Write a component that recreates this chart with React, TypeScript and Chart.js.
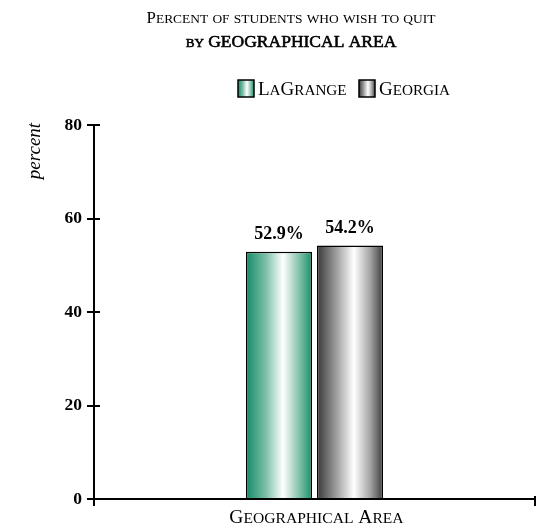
import React, { useEffect, useRef } from 'react';
import { Chart, registerables } from 'chart.js';

Chart.register(...registerables);

const categories = ['Geographical Area'];
const seriesNames = ['LaGrange', 'Georgia'];
const lagrangeValues = [52.9];
const georgiaValues = [54.2];
const yTicks = [0, 20, 40, 60, 80];
const titleLine1 = 'Percent of students who wish to quit';
const titleLine2 = 'by GEOGRAPHICAL AREA';
const yAxisTitle = 'percent';
const xAxisTitle = 'Geographical Area';

const FAMILY = '"Liberation Serif", "Times New Roman", serif';

const GREEN_STOPS: [number, string][] = [
  [0, '#138a68'],
  [0.3, '#7dbfa6'],
  [0.56, '#ffffff'],
  [0.8, '#86c3ab'],
  [1, '#16906d'],
];
const GRAY_STOPS: [number, string][] = [
  [0, '#383838'],
  [0.3, '#a0a0a0'],
  [0.56, '#ffffff'],
  [0.8, '#a6a6a6'],
  [1, '#404040'],
];

function makeGradient(ctx: CanvasRenderingContext2D, x0: number, x1: number, stops: [number, string][]) {
  const g = ctx.createLinearGradient(x0, 0, x1, 0);
  stops.forEach(([o, c]) => g.addColorStop(o, c));
  return g;
}

function barGradient(c: any, stops: [number, string][]) {
  const chart = c.chart;
  if (c.dataIndex === undefined) return stops[0][1];
  const el: any = chart.getDatasetMeta(c.datasetIndex).data[c.dataIndex];
  if (!el || el.width == null || !isFinite(el.x) || !isFinite(el.width)) return stops[0][1];
  return makeGradient(chart.ctx, el.x - el.width / 2, el.x + el.width / 2, stops);
}

function drawSmallCaps(
  ctx: CanvasRenderingContext2D,
  text: string,
  x: number,
  y: number,
  size: number,
  align: 'left' | 'center' | 'right',
  weight = 'normal',
  ratio = 0.78,
  embolden = 0
) {
  const segs: { str: string; size: number; w: number }[] = [];
  for (const ch of text) {
    const lower = ch !== ch.toUpperCase();
    const s = lower ? size * ratio : size;
    const c = lower ? ch.toUpperCase() : ch;
    const last = segs[segs.length - 1];
    if (last && last.size === s) last.str += c;
    else segs.push({ str: c, size: s, w: 0 });
  }
  let total = 0;
  for (const seg of segs) {
    ctx.font = `${weight} ${seg.size}px ${FAMILY}`;
    seg.w = ctx.measureText(seg.str).width;
    total += seg.w;
  }
  let start = align === 'center' ? x - total / 2 : align === 'right' ? x - total : x;
  ctx.textAlign = 'left';
  ctx.textBaseline = 'alphabetic';
  for (const seg of segs) {
    ctx.font = `${weight} ${seg.size}px ${FAMILY}`;
    ctx.fillText(seg.str, start, y);
    if (embolden > 0) {
      ctx.lineWidth = embolden;
      ctx.strokeStyle = ctx.fillStyle as string;
      ctx.strokeText(seg.str, start, y);
    }
    start += seg.w;
  }
  return total;
}

const decorPlugin = {
  id: 'decor',
  afterDraw(chart: any) {
    const ctx: CanvasRenderingContext2D = chart.ctx;
    const xs = chart.scales.x;
    const ys = chart.scales.y;
    ctx.save();
    ctx.fillStyle = '#000';

    // Title
    drawSmallCaps(ctx, titleLine1, 291, 23, 16.8, 'center', 'normal', 0.8);
    drawSmallCaps(ctx, titleLine2, 291, 47, 17.5, 'center', 'normal', 0.75, 0.6);

    // Legend
    const legendItems = [
      { name: seriesNames[0], box: 238, text: 258, stops: GREEN_STOPS },
      { name: seriesNames[1], box: 359, text: 379, stops: GRAY_STOPS },
    ];
    for (const it of legendItems) {
      ctx.fillStyle = makeGradient(ctx, it.box, it.box + 16, it.stops);
      ctx.fillRect(it.box, 80, 16, 17);
      ctx.strokeStyle = '#000';
      ctx.lineWidth = 1.5;
      ctx.strokeRect(it.box, 80, 16, 17);
      ctx.fillStyle = '#000';
      drawSmallCaps(ctx, it.name, it.text, 95, 19, 'left', 'normal', 0.8);
    }

    // Y axis title
    ctx.save();
    ctx.translate(40, 151);
    ctx.rotate(-Math.PI / 2);
    ctx.font = `italic 19px ${FAMILY}`;
    ctx.textAlign = 'center';
    ctx.textBaseline = 'alphabetic';
    ctx.fillText(yAxisTitle, 0, 0);
    ctx.restore();

    // X axis title
    drawSmallCaps(ctx, xAxisTitle, (xs.left + xs.right) / 2 + 2, 523, 19.5, 'center', 'normal', 0.8);

    // Inner halves of tick marks
    ctx.strokeStyle = '#000';
    ctx.lineWidth = 2;
    ctx.beginPath();
    for (const v of yTicks) {
      const py = Math.round(ys.getPixelForValue(v));
      ctx.moveTo(chart.chartArea.left, py);
      ctx.lineTo(chart.chartArea.left + 6, py);
    }
    ctx.moveTo(chart.chartArea.right, chart.chartArea.bottom);
    ctx.lineTo(chart.chartArea.right, chart.chartArea.bottom - 3);
    ctx.stroke();

    // Data labels
    ctx.font = `bold 18px ${FAMILY}`;
    ctx.textAlign = 'center';
    ctx.textBaseline = 'alphabetic';
    chart.data.datasets.forEach((ds: any, i: number) => {
      const meta = chart.getDatasetMeta(i);
      meta.data.forEach((el: any, j: number) => {
        const v = ds.data[j];
        ctx.fillText(`${v.toFixed(1)}%`, el.x, el.y - 13);
      });
    });
    ctx.restore();
  },
};

export default function App() {
  const ref = useRef<HTMLCanvasElement | null>(null);
  useEffect(() => {
    if (!ref.current) return;
    const chart = new Chart(ref.current, {
      type: 'bar',
      data: {
        labels: categories,
        datasets: [
          {
            label: seriesNames[0],
            data: lagrangeValues,
            backgroundColor: (c: any) => barGradient(c, GREEN_STOPS),
            borderColor: '#000',
            borderWidth: 1.5,
          },
          {
            label: seriesNames[1],
            data: georgiaValues,
            backgroundColor: (c: any) => barGradient(c, GRAY_STOPS),
            borderColor: '#000',
            borderWidth: 1.5,
          },
        ],
      },
      options: {
        animation: false,
        responsive: false,
        maintainAspectRatio: false,
        layout: { padding: { top: 125, right: 5, left: 0, bottom: 0 } },
        datasets: { bar: { categoryPercentage: 0.322, barPercentage: 0.93 } },
        plugins: {
          legend: { display: false },
          title: { display: false },
          tooltip: { enabled: false },
        },
        scales: {
          x: {
            grid: {
              display: true,
              drawOnChartArea: false,
              drawTicks: true,
              tickLength: 7,
              color: '#000',
              lineWidth: 2,
              offset: true,
            },
            border: { color: '#000', width: 2 },
            ticks: { callback: () => '', font: { size: 1 } },
            afterFit: (s: any) => {
              s.height = 32;
            },
          },
          y: {
            min: 0,
            max: 80,
            afterBuildTicks: (s: any) => {
              s.ticks = yTicks.map((v) => ({ value: v }));
            },
            grid: {
              display: true,
              drawOnChartArea: false,
              drawTicks: true,
              tickLength: 7,
              color: '#000',
              lineWidth: 2,
            },
            border: { color: '#000', width: 2 },
            ticks: {
              font: { family: FAMILY, size: 17.5, weight: 'bold' },
              color: '#000',
              padding: 5,
            },
            afterFit: (s: any) => {
              s.width = 94;
            },
          },
        },
      } as any,
      plugins: [decorPlugin],
    });
    chart.update();
    return () => chart.destroy();
  }, []);
  return (
    <div style={{ position: 'absolute', left: 0, top: 0, width: 540, height: 531 }}>
      <canvas ref={ref} width={540} height={531} style={{ width: 540, height: 531 }} />
    </div>
  );
}
